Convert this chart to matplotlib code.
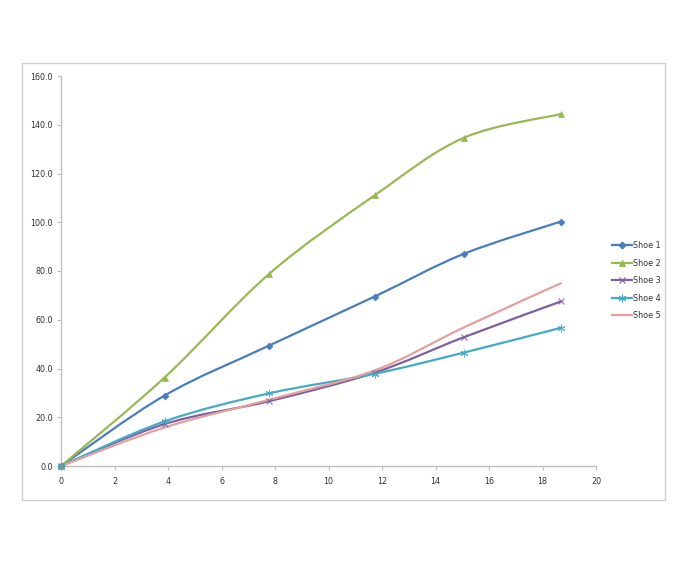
import matplotlib
matplotlib.use("Agg")
import matplotlib.pyplot as plt
import numpy as np
from matplotlib.path import Path
from matplotlib.patches import PathPatch, Rectangle
from matplotlib.lines import Line2D

# ---- data ----
x_vals = [0, 3.87, 7.78, 11.72, 15.05, 18.69]
series_names = ["Shoe 1", "Shoe 2", "Shoe 3", "Shoe 4", "Shoe 5"]
shoe1 = [0, 28.9, 49.4, 69.5, 87.0, 100.3]
shoe2 = [0, 36.3, 78.8, 111.0, 134.6, 144.4]
shoe3 = [0, 17.2, 26.6, 38.3, 52.8, 67.5]
shoe4 = [0, 18.3, 29.8, 37.8, 46.5, 56.7]
shoe5 = [0, 15.8, 27.2, 39.2, 56.8, 75.0]
x_ticks = list(range(0, 21, 2))
y_ticks = list(range(0, 161, 20))

colors = ["#4A7EBB", "#98B954", "#7D60A0", "#46AAC5", "#E3A09E"]
markers = ["D", "^", "x", (6, 2, 0), None]
msizes = [3.5, 5, 5, 5.5, 0]

W, H = 687, 565
fig = plt.figure(figsize=(W / 100, H / 100), dpi=100)
fig.patch.set_facecolor("white")

# outer chart border
fig.add_artist(Rectangle((22 / W, 1 - 500 / H), (665 - 22) / W, (500 - 63) / H,
                         transform=fig.transFigure, fill=False,
                         edgecolor="#D0D0D0", lw=1.0))

ax = fig.add_axes([61 / W, 1 - 466 / H, (596 - 61) / W, (466 - 76) / H])
ax.set_xlim(0, 20)
ax.set_ylim(0, 160)


def smooth_path(xs, ys):
    pts = np.column_stack([xs, ys]).astype(float)
    n = len(pts)
    verts = [pts[0]]
    codes = [Path.MOVETO]
    for i in range(n - 1):
        p0 = pts[i - 1] if i > 0 else pts[i]
        p1 = pts[i]
        p2 = pts[i + 1]
        p3 = pts[i + 2] if i + 2 < n else pts[i + 1]
        c1 = p1 + (p2 - p0) / 6.0
        c2 = p2 - (p3 - p1) / 6.0
        verts += [c1, c2, p2]
        codes += [Path.CURVE4] * 3
    return Path(verts, codes)


LW = 1.6
all_series = [shoe1, shoe2, shoe3, shoe4, shoe5]
handles = []
for name, ys, c, m, ms in zip(series_names, all_series, colors, markers, msizes):
    patch = PathPatch(smooth_path(x_vals, ys), fill=False, edgecolor=c, lw=LW,
                      transform=ax.transData, zorder=3, capstyle="round",
                      joinstyle="round")
    ax.add_patch(patch)
    thin = (m == "x") or isinstance(m, tuple)
    if m is not None:
        ax.plot(x_vals, ys, linestyle="none", marker=m, markersize=ms, color=c,
                markeredgecolor=c, markeredgewidth=0.8 if thin else 0.5,
                zorder=4, clip_on=False, alpha=0.85 if thin else 1.0)
    handles.append(Line2D([0], [0], color=c, lw=LW, marker=m if m else "",
                          markersize=ms, markeredgecolor=c,
                          markeredgewidth=0.8))

ax.set_xticks(x_ticks)
ax.set_yticks(y_ticks)
ax.set_yticklabels([f"{v:.1f}" for v in y_ticks])
for s in ["top", "right"]:
    ax.spines[s].set_visible(False)
for s in ["left", "bottom"]:
    ax.spines[s].set_color("#BFBFBF")
    ax.spines[s].set_linewidth(1.0)
ax.tick_params(axis="both", direction="out", length=3, width=0.8,
               color="#BFBFBF", labelsize=5.8, labelcolor="#333333", pad=3)
ax.tick_params(axis="x", pad=5)

leg = fig.legend(handles=handles, labels=series_names,
                 loc="upper left", bbox_to_anchor=(609 / W, 1 - 238 / H),
                 frameon=False, fontsize=5.8, handlelength=2.4,
                 handletextpad=0.2, labelspacing=1.05, borderaxespad=0)
for t in leg.get_texts():
    t.set_color("#333333")

fig.savefig("out.png", dpi=100, facecolor="white")
